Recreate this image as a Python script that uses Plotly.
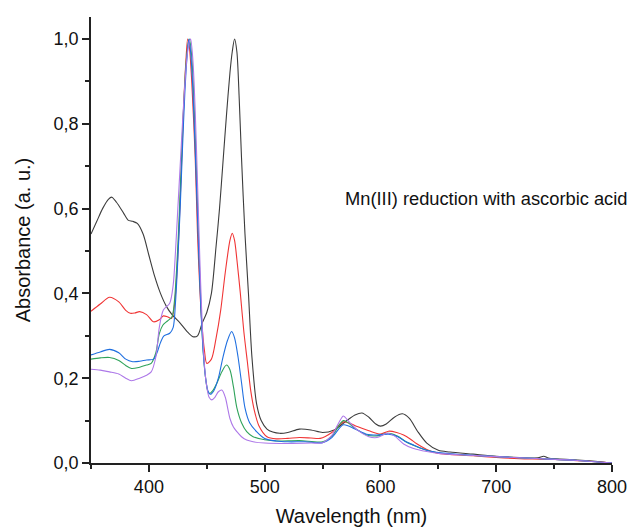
import plotly.graph_objects as go

# spectra (wavelength nm, absorbance a.u.)
wl_black = [350, 355, 360, 365, 368, 372, 378, 382, 386, 390, 395, 400, 405, 410, 415, 420, 427, 433, 438, 442,
            446, 450, 454, 458, 461, 464, 467, 470, 472, 474, 476, 478, 480, 483, 486, 489, 493, 497, 502, 507,
            513, 520, 530, 540, 550, 560, 570, 578, 584, 590, 596, 600, 605, 612, 619, 625, 632, 640, 650, 660,
            680, 700, 720, 736, 741, 746, 760, 780, 800]
abs_black = [0.54, 0.57, 0.60, 0.622, 0.627, 0.615, 0.59, 0.573, 0.57, 0.565, 0.54, 0.49, 0.44, 0.40, 0.37, 0.35,
             0.33, 0.31, 0.298, 0.30, 0.33, 0.355, 0.40, 0.51, 0.60, 0.71, 0.82, 0.92, 0.97, 1.0, 0.97, 0.86,
             0.72, 0.54, 0.40, 0.25, 0.14, 0.10, 0.08, 0.073, 0.07, 0.072, 0.08, 0.078, 0.072, 0.078, 0.098,
             0.113, 0.118, 0.108, 0.092, 0.087, 0.092, 0.108, 0.116, 0.105, 0.075, 0.047, 0.03, 0.026, 0.021,
             0.016, 0.013, 0.012, 0.016, 0.011, 0.009, 0.005, 0.0]

wl_red = [350, 358, 366, 374, 380, 384, 388, 392, 398, 404, 409, 412.5, 416, 419.5, 422, 424, 426, 428, 430, 432,
          433.5, 435, 437, 440, 442, 444, 446, 448, 450, 454, 458, 462, 466, 470, 472, 474, 476, 479, 482, 485,
          488, 491, 495, 502, 510, 520, 530, 540, 548, 558, 568, 575, 580, 590, 600, 607, 614, 620, 626, 631,
          640, 649, 660, 680, 700, 720, 740, 760, 780, 800]
abs_red = [0.358, 0.375, 0.391, 0.38, 0.36, 0.353, 0.354, 0.357, 0.35, 0.333, 0.338, 0.347, 0.345, 0.341, 0.37,
           0.44, 0.55, 0.69, 0.84, 0.95, 1.0, 0.98, 0.9, 0.72, 0.54, 0.41, 0.32, 0.265, 0.235, 0.245, 0.294,
           0.36, 0.45, 0.525, 0.542, 0.525, 0.48, 0.40, 0.31, 0.24, 0.17, 0.125, 0.088, 0.062, 0.057, 0.058,
           0.06, 0.059, 0.058, 0.072, 0.097, 0.092, 0.086, 0.076, 0.068, 0.075, 0.072, 0.066, 0.056, 0.046,
           0.032, 0.023, 0.02, 0.017, 0.013, 0.01, 0.009, 0.007, 0.004, 0.0]

wl_blue = [350, 358, 366, 374, 380, 386, 392, 398, 404, 407, 410, 413, 418, 421, 423, 425, 427, 429, 431, 433,
           434.5, 436, 438, 441, 443, 445, 447, 449, 451, 453, 456, 460, 464, 468, 471.5, 474, 477, 480, 483, 487,
           493, 500, 510, 520, 535, 550, 558, 568, 578, 588, 597, 607, 615, 622, 629, 640, 652, 670, 700, 740,
           770, 800]
abs_blue = [0.255, 0.262, 0.268, 0.26, 0.245, 0.239, 0.24, 0.243, 0.245, 0.26, 0.284, 0.3, 0.306, 0.32, 0.38,
            0.48, 0.6, 0.74, 0.87, 0.96, 1.0, 0.97, 0.88, 0.66, 0.5, 0.36, 0.26, 0.2, 0.17, 0.162, 0.17, 0.2,
            0.25, 0.29, 0.31, 0.295, 0.25, 0.19, 0.13, 0.095, 0.074, 0.058, 0.052, 0.05, 0.05, 0.048, 0.06, 0.09,
            0.08, 0.068, 0.066, 0.068, 0.062, 0.05, 0.042, 0.03, 0.024, 0.02, 0.015, 0.01, 0.006, 0.0]

wl_green = [350, 358, 366, 374, 380, 385, 392, 398, 402, 406, 409, 412, 416, 420, 422, 424, 426, 428, 430, 432,
            434, 435, 437, 439, 441, 443, 445, 447, 449, 451, 452.5, 455, 459, 463, 467, 470, 473, 476, 480,
            484.5, 490, 500, 510, 530, 550, 558, 568, 578, 588, 597, 607, 615, 622, 630, 640, 652, 680, 700, 740,
            770, 800]
abs_green = [0.245, 0.248, 0.249, 0.242, 0.23, 0.223, 0.226, 0.231, 0.235, 0.26, 0.305, 0.325, 0.335, 0.345,
             0.38, 0.46, 0.57, 0.71, 0.84, 0.94, 0.99, 1.0, 0.96, 0.85, 0.7, 0.52, 0.37, 0.26, 0.2, 0.168, 0.164,
             0.17, 0.19, 0.215, 0.231, 0.22, 0.18, 0.13, 0.095, 0.074, 0.062, 0.055, 0.052, 0.053, 0.05, 0.063,
             0.1, 0.082, 0.066, 0.064, 0.07, 0.063, 0.05, 0.04, 0.03, 0.023, 0.018, 0.015, 0.01, 0.006, 0.0]

wl_purple = [350, 358, 366, 374, 380, 385, 392, 398, 402, 406, 409, 412.5, 418, 421, 423, 425, 427, 429, 431, 433,
             435, 436, 438, 440, 442, 444, 446, 448, 450, 452, 454.3, 457, 460, 463, 466, 468, 470, 473, 476, 480,
             484.5, 490, 500, 520, 540, 550, 558, 564, 568, 572, 580, 590, 597, 606, 612, 620, 628, 640, 652, 680,
             700, 740, 770, 800]
abs_purple = [0.221, 0.219, 0.215, 0.21, 0.2, 0.194, 0.2, 0.207, 0.215, 0.25, 0.32, 0.361, 0.377, 0.42, 0.5, 0.6,
              0.7, 0.8, 0.89, 0.96, 0.995, 1.0, 0.95, 0.83, 0.66, 0.48, 0.33, 0.23, 0.18, 0.155, 0.149, 0.155,
              0.168, 0.172, 0.155, 0.13, 0.105, 0.085, 0.074, 0.062, 0.054, 0.05, 0.047, 0.046, 0.047, 0.048,
              0.065, 0.095, 0.111, 0.1, 0.078, 0.062, 0.06, 0.07, 0.064, 0.045, 0.035, 0.027, 0.022, 0.018,
              0.015, 0.01, 0.006, 0.0]

series = [
    (wl_black, abs_black, "#3c3c3c"),
    (wl_red, abs_red, "#f03535"),
    (wl_green, abs_green, "#2fa35a"),
    (wl_blue, abs_blue, "#1f6fe0"),
    (wl_purple, abs_purple, "#ad78e8"),
]

FONT = "Liberation Sans, Arial, sans-serif"

fig = go.Figure()
for wl, ab, col in series:
    fig.add_trace(go.Scatter(x=wl, y=ab, mode="lines",
                             line=dict(color=col, width=1.1, shape="spline", smoothing=0.8),
                             showlegend=False, hoverinfo="skip"))

axis_common = dict(showline=True, linecolor="#222", linewidth=1.5, ticks="outside", ticklen=7,
                   tickwidth=1.5, tickcolor="#222", showgrid=False, zeroline=False, mirror=False,
                   tickfont=dict(family=FONT, size=18, color="#111"))

fig.update_xaxes(range=[350, 800], tick0=0, dtick=100,
                 minor=dict(dtick=50, ticks="outside", ticklen=4, tickwidth=1.5, tickcolor="#222"),
                 title=dict(text="Wavelength (nm)", font=dict(family=FONT, size=20, color="#111"), standoff=13),
                 **axis_common)
fig.update_yaxes(range=[0, 1.052], tick0=0, dtick=0.2, tickformat=".1f",
                 minor=dict(dtick=0.1, ticks="outside", ticklen=4, tickwidth=1.5, tickcolor="#222"),
                 title=dict(text="Absorbance (a. u.)", font=dict(family=FONT, size=20, color="#111"), standoff=18),
                 **axis_common)

fig.add_annotation(x=568, y=0.625, xref="x", yref="y", text="Mn(III) reduction with ascorbic acid",
                   showarrow=False, xanchor="left", yanchor="middle",
                   font=dict(family=FONT, size=18.3, color="#111"))

fig.update_layout(width=629, height=532, separators=",.",
                  margin=dict(l=91, r=17, t=17, b=69, autoexpand=False),
                  plot_bgcolor="white", paper_bgcolor="white")

# drop the default page margin so the figure fills the window exactly
fig.write_html("out.html", config={"displayModeBar": False},
               post_script="document.body.style.margin='0';document.body.style.overflow='hidden';")
